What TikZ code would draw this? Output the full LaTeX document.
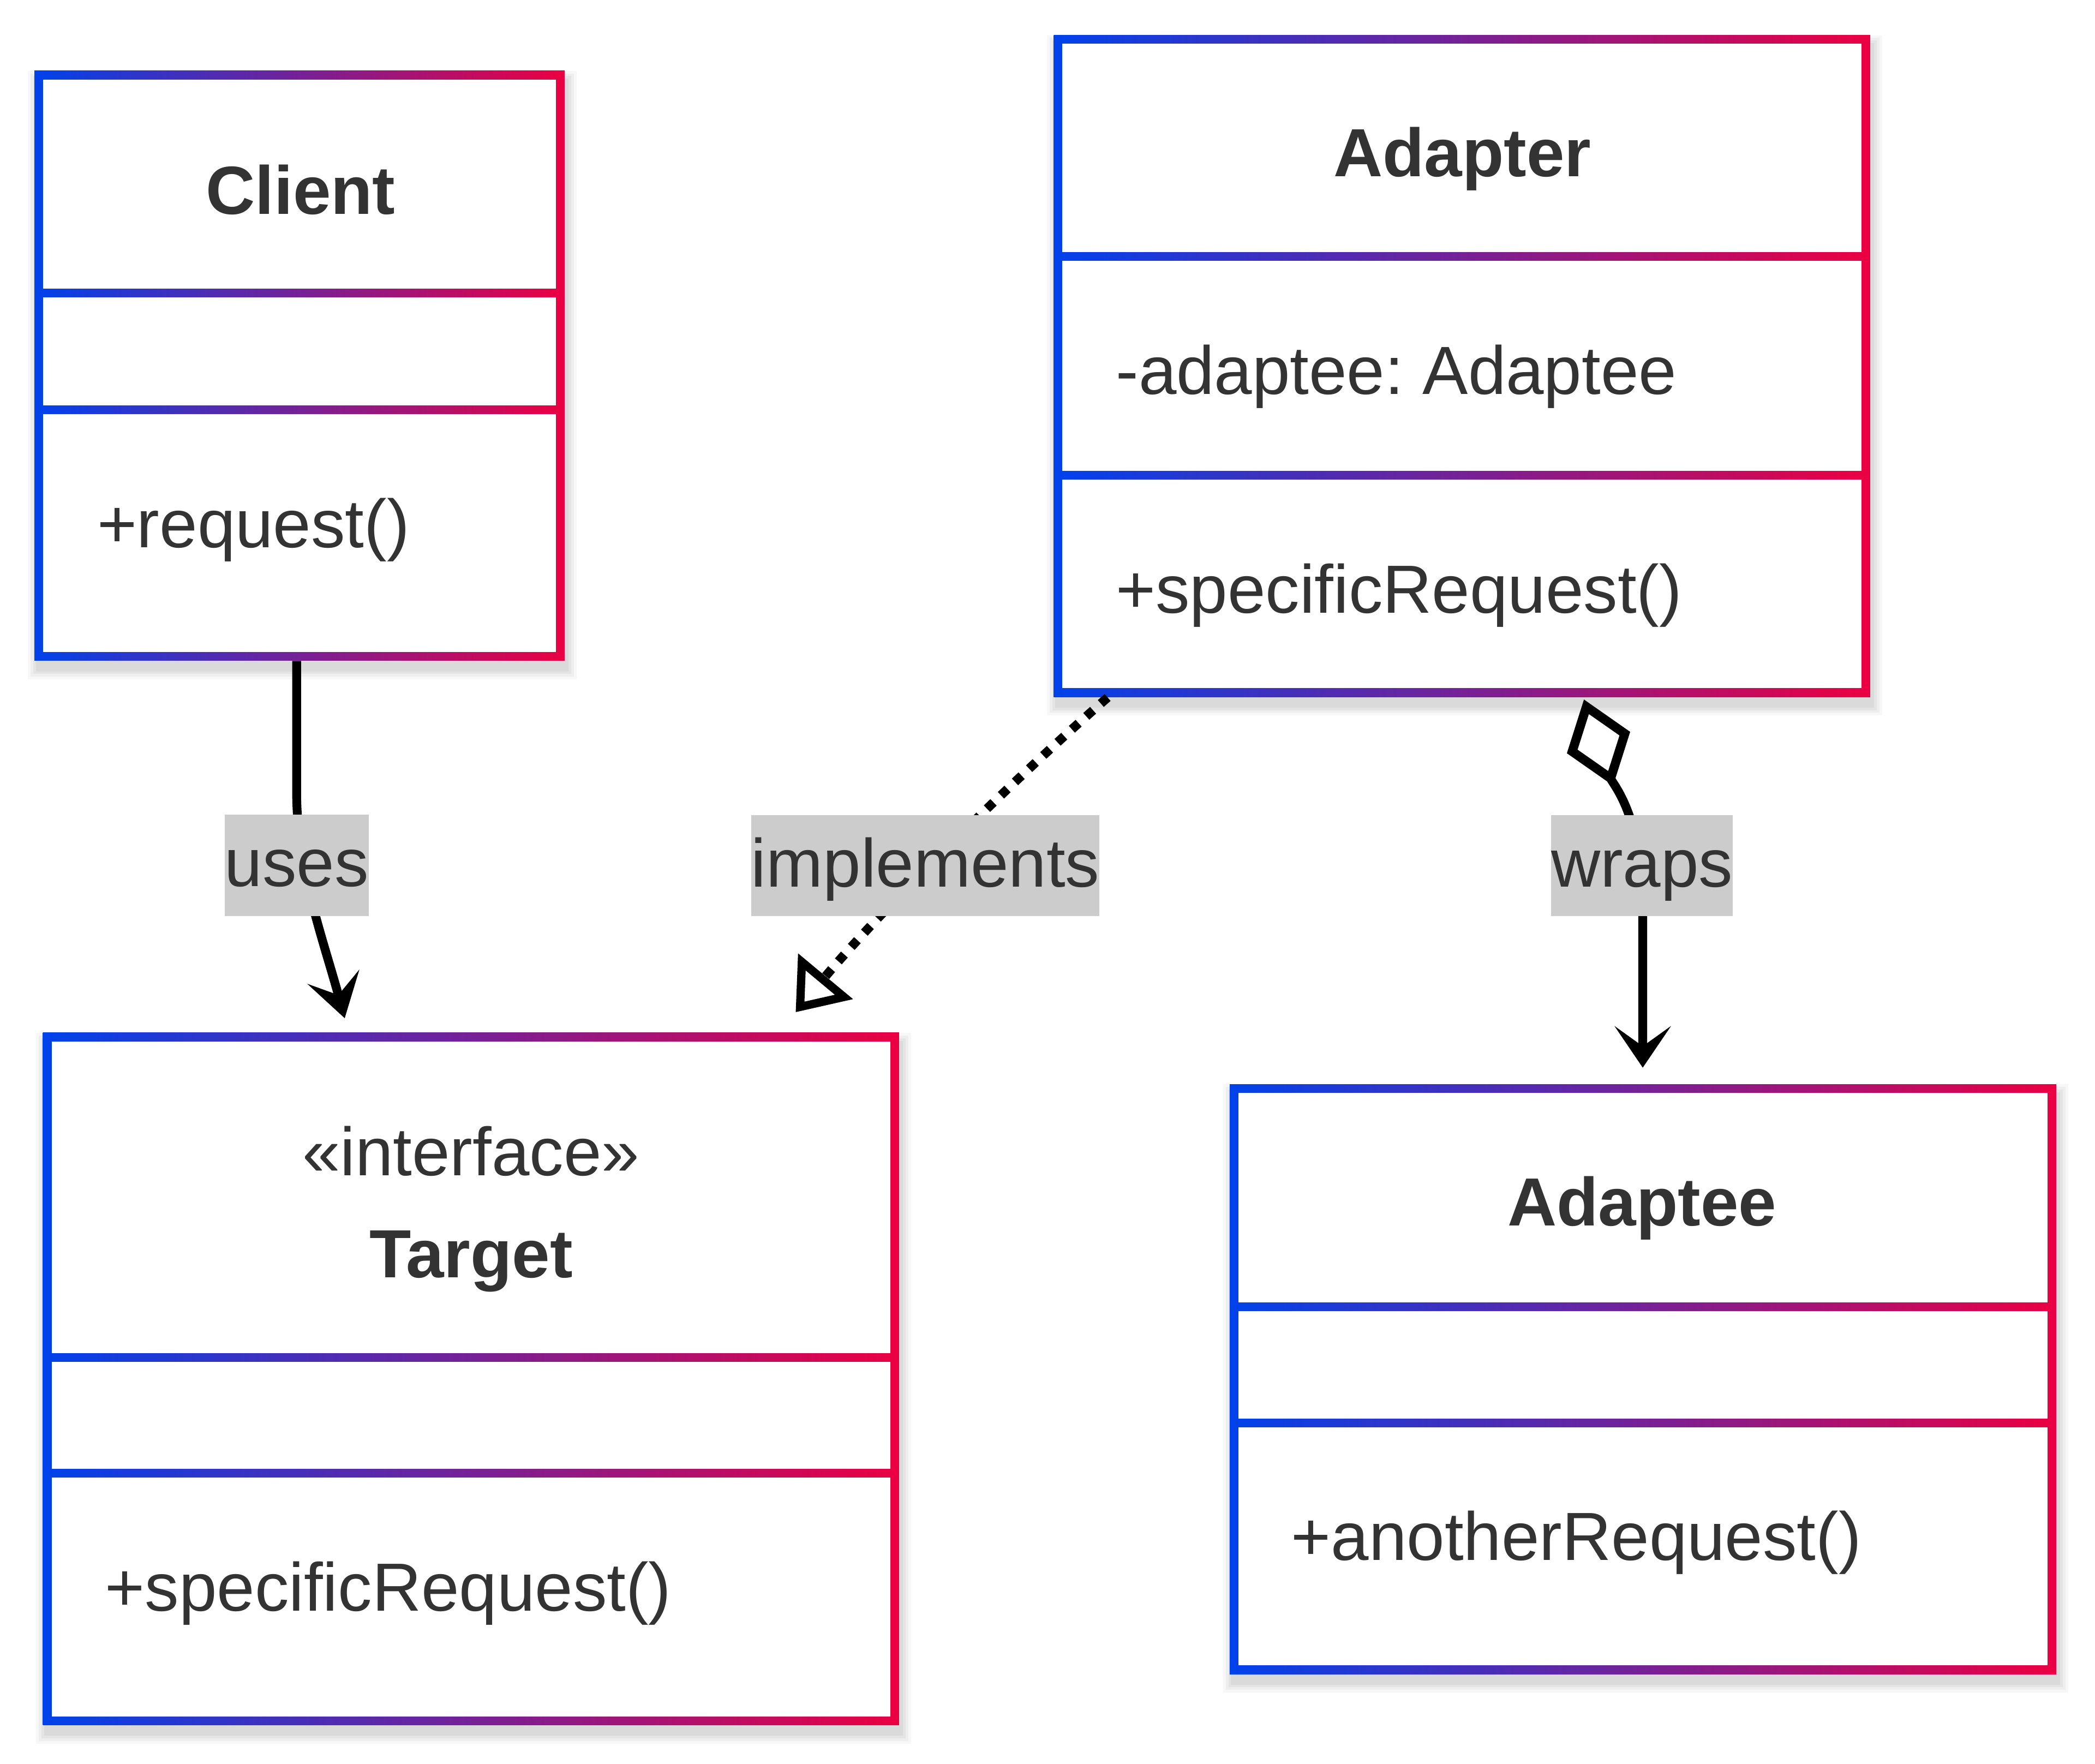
\documentclass[tikz,border=0pt]{standalone}
\usepackage{fontspec}
\setmainfont{Liberation Sans}
\frenchspacing
\usetikzlibrary{arrows.meta,fit}
\definecolor{ublue}{RGB}{0,66,235}
\definecolor{ured}{RGB}{235,0,66}
\definecolor{txt}{RGB}{51,51,51}
\definecolor{lblgray}{RGB}{204,204,204}
% #1 name, #2 x1, #3 y1, #4 x2, #5 y2, #6 sep1, #7 sep2 (border centre lines, y downwards)
\newcommand\classbox[7]{%
  \foreach \m/\o in {7/0.03,5/0.035,3/0.04,1/0.045}{%
    \fill[black,opacity=\o] (#2-3.25-\m+2,#3-3.25-\m+7) rectangle (#4+3.25+\m+2,#5+3.25+\m+7);
  }
  \shade[left color=ublue,right color=ured] (#2-3.25,#3-3.25) rectangle (#4+3.25,#5+3.25);
  \fill[white] (#2+3.25,#3+3.25) rectangle (#4-3.25,#6-3.25);
  \fill[white] (#2+3.25,#6+3.25) rectangle (#4-3.25,#7-3.25);
  \fill[white] (#2+3.25,#7+3.25) rectangle (#4-3.25,#5-3.25);
  \coordinate (#1-nw) at (#2-3.25,#3-3.25);
  \coordinate (#1-se) at (#4+3.25,#5+3.25);
  \node[fit=(#1-nw)(#1-se),inner sep=0pt] (#1) {};
}
\begin{document}
\begin{tikzpicture}[x=1pt,y=-1pt,
  cname/.style={anchor=base,text=txt,font=\fontsize{51}{61}\selectfont\bfseries,inner sep=0pt},
  ctext/.style={anchor=base,text=txt,font=\fontsize{51}{61}\selectfont,inner sep=0pt},
  member/.style={anchor=base west,text=txt,font=\fontsize{51}{61}\selectfont,inner sep=0pt},
  lbl/.style={anchor=base,fill=lblgray,text=txt,font=\fontsize{51}{61}\selectfont,inner sep=0pt,text height=53.8pt,text depth=21.9pt},
  conn/.style={line width=6.6pt,black},
  dotconn/.style={line width=6.8pt,black,dash pattern=on 6.8pt off 7.7pt}]
\fill[white] (0,0) rectangle (1568,1320.1);
\useasboundingbox (0,0) rectangle (1568,1320.1);

% classes
\classbox{client}{29}{56.2}{419.3}{491.2}{219.3}{306.5}
\classbox{adapter}{791.9}{29.6}{1396.4}{518.2}{192}{355.5}
\classbox{target}{35.4}{776.2}{669.6}{1287.7}{1016.1}{1102.5}
\classbox{adaptee}{923.6}{814.6}{1535.7}{1249.5}{978}{1065}

% class texts
\node[cname] (client-title) at (225,160.1) {Client};
\node[member] (client-m) at (72.5,409.6) {+request()};

\node[cname] (adapter-title) at (1094.5,132) {Adapter};
\node[member] (adapter-a) at (835,295.2) {-adaptee: Adaptee};
\node[member] (adapter-m) at (835,458.7) {+specificRequest()};

\node[ctext] (target-st) at (352.4,879.7) {«interface»};
\node[cname] (target-title) at (352.6,956) {Target};
\node[member] (target-m) at (78.5,1205.6) {+specificRequest()};

\node[cname] (adaptee-title) at (1229,917.5) {Adaptee};
\node[member] (adaptee-m) at (966.3,1167.7) {+anotherRequest()};

% connector end points
\coordinate (usestip) at (258,762);
\coordinate (impstart) at (829,522);
\coordinate (imptip) at (595.5,757.5);
\coordinate (wrapstart) at (1185.5,523.5);
\coordinate (wrapstip) at (1229.5,799);

% uses
\draw[conn,-{Stealth[length=32pt,width=40pt,inset=14pt]}]
  (client.south -| 222,0) -- (222,592) .. controls (222,650) and (241,700) .. (usestip);
% implements
\draw[dotconn,-{Triangle[open,length=35pt,width=52pt,line width=6.2pt]}]
  (impstart) .. controls (760,582) and (660,680) .. (imptip);
% wraps
\draw[conn,{Diamond[open,length=68pt,width=50pt,line width=6.8pt]}-{Stealth[length=31pt,width=42pt,inset=15pt]}]
  (wrapstart) .. controls (1207,587) and (1229.5,610) .. (1229.5,680) -- (wrapstip);

% labels
\node[lbl] (l-uses) at (222,663.5) {uses};
\node[lbl] (l-impl) at (692.6,663.8) {implements};
\node[lbl] (l-wraps) at (1228.9,663.8) {wraps};
\end{tikzpicture}
\end{document}
